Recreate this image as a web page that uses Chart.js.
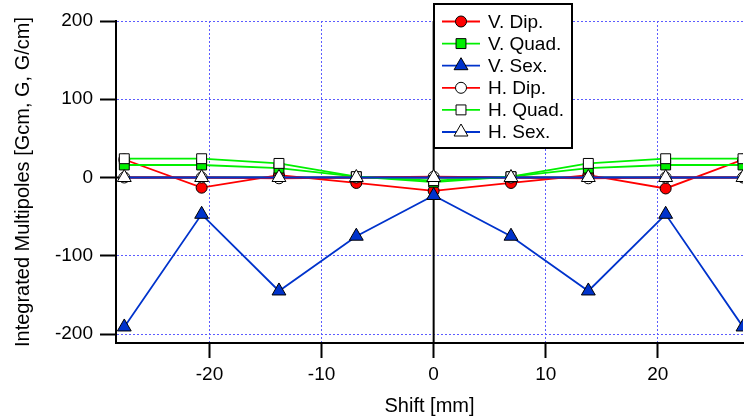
<!DOCTYPE html>
<html>
<head>
<meta charset="utf-8">
<title>Integrated Multipoles vs Shift</title>
<script src="https://cdn.jsdelivr.net/npm/chart.js@4/dist/chart.umd.min.js"></script>
<style>
  html, body { margin: 0; padding: 0; background: #fff; }
  #chart { display: block; }
</style>
</head>
<body>
<canvas id="chart" width="747" height="420"></canvas>
<script>
// shift positions [mm]
const shifts = [-27.6, -20.7, -13.8, -6.9, 0, 6.9, 13.8, 20.7, 27.6];

// integrated multipoles
const vDip  = [23, -13, 3, -7, -17, -7, 3, -14, 23];
const vQuad = [16, 16, 12, 1, -6, 1, 12, 16, 16];
const vSex  = [-191, -47, -145, -75, -23, -75, -145, -47, -191];
const hDip  = [0, 0, -1, 0, 1, 0, -1, 0, 0];
const hQuad = [24, 24, 18, 1, -4, 1, 18, 24, 24];
const hSex  = [0, 0, 0, 0, 0, 0, 0, 0, 0];

const xTicks = [-20, -10, 0, 10, 20];
const yTicks = [-200, -100, 0, 100, 200];

const RED = '#ff0000';
const GREEN = '#00f000';
const BLUE = '#0033cc';
const FONT = 'Liberation Sans, Arial, sans-serif';

const toPoints = ys => ys.map((y, i) => ({ x: shifts[i], y: y }));

function series(label, ys, color, style, radius, filled, order) {
    return {
        label: label,
        data: toPoints(ys),
        borderColor: color,
        borderWidth: 1.8,
        pointStyle: style,
        pointRadius: radius,
        pointHoverRadius: radius,
        pointBorderColor: '#000',
        pointBorderWidth: 1,
        pointBackgroundColor: filled ? color : '#fff',
        tension: 0,
        fill: false,
        order: order
    };
}

const datasets = [
    series('V. Dip.', vDip, RED, 'circle', 5.5, true, 6),
    series('V. Quad.', vQuad, GREEN, 'rect', 7, true, 5),
    series('V. Sex.', vSex, BLUE, 'triangle', 8, true, 4),
    series('H. Dip.', hDip, RED, 'circle', 5.5, false, 3),
    series('H. Quad.', hQuad, GREEN, 'rect', 7, false, 2),
    series('H. Sex.', hSex, BLUE, 'triangle', 8, false, 1)
];

// small marker painter used by the legend
function drawMarker(ctx, style, x, y, r, fill) {
    ctx.beginPath();
    if (style === 'circle') {
        ctx.arc(x, y, r, 0, Math.PI * 2);
    } else if (style === 'rect') {
        const s = r * Math.SQRT1_2;
        ctx.rect(x - s, y - s, 2 * s, 2 * s);
    } else {
        ctx.moveTo(x, y - r);
        ctx.lineTo(x + r * 0.866, y + r / 2);
        ctx.lineTo(x - r * 0.866, y + r / 2);
        ctx.closePath();
    }
    ctx.fillStyle = fill;
    ctx.fill();
    ctx.lineWidth = 1;
    ctx.strokeStyle = '#000';
    ctx.stroke();
}

// black zero lines, like the ones in the original plot
const zeroLines = {
    id: 'zeroLines',
    beforeDatasetsDraw(chart) {
        const { ctx, chartArea, scales } = chart;
        const x0 = scales.x.getPixelForValue(0);
        const y0 = scales.y.getPixelForValue(0);
        ctx.save();
        ctx.strokeStyle = '#000';
        ctx.lineWidth = 2;
        ctx.beginPath();
        ctx.moveTo(x0, chartArea.top);
        ctx.lineTo(x0, chartArea.bottom);
        ctx.moveTo(chartArea.left, y0);
        ctx.lineTo(chartArea.right, y0);
        ctx.stroke();
        ctx.restore();
    }
};

// boxed legend in the top of the plot
const boxLegend = {
    id: 'boxLegend',
    afterDraw(chart) {
        const ctx = chart.ctx;
        const left = 434, top = 4, w = 138, h = 144;
        ctx.save();
        ctx.fillStyle = '#fff';
        ctx.fillRect(left, top, w, h);
        ctx.lineWidth = 2;
        ctx.strokeStyle = '#000';
        ctx.strokeRect(left, top, w, h);
        ctx.font = '19px ' + FONT;
        ctx.textBaseline = 'middle';
        chart.data.datasets.forEach((ds, i) => {
            const y = top + 17.5 + i * 22.1;
            ctx.beginPath();
            ctx.strokeStyle = ds.borderColor;
            ctx.lineWidth = 1.8;
            ctx.moveTo(left + 8, y);
            ctx.lineTo(left + 46, y);
            ctx.stroke();
            drawMarker(ctx, ds.pointStyle, left + 27, y, ds.pointRadius, ds.pointBackgroundColor);
            ctx.fillStyle = '#000';
            ctx.fillText(ds.label, left + 54, y + 1);
        });
        ctx.restore();
    }
};

const gridColor = c => (c.tick && c.tick.value === 0) ? 'rgba(0,0,0,0)' : '#5c5cff';

new Chart(document.getElementById('chart'), {
    type: 'line',
    data: { datasets: datasets },
    options: {
        responsive: false,
        animation: false,
        events: [],
        layout: { autoPadding: false, padding: { top: 21, right: 4, left: 0, bottom: 0 } },
        plugins: {
            legend: { display: false },
            tooltip: { enabled: false }
        },
        scales: {
            x: {
                type: 'linear',
                min: -28.34,
                max: 27.6,
                afterBuildTicks: s => { s.ticks = xTicks.map(v => ({ value: v })); },
                afterFit: s => { s.height = 77; },
                grid: {
                    color: gridColor,
                    lineWidth: 1,
                    tickLength: 15,
                    tickColor: '#000',
                    tickWidth: 2
                },
                border: { color: '#000', width: 2, dash: [2, 2] },
                ticks: {
                    color: '#000',
                    font: { family: FONT, size: 19 },
                    padding: 5,
                    maxRotation: 0
                },
                title: {
                    display: true,
                    text: 'Shift [mm]',
                    color: '#000',
                    font: { family: FONT, size: 20 },
                    padding: { top: 0, bottom: 2 }
                }
            },
            y: {
                min: -211.5,
                max: 200,
                afterBuildTicks: s => { s.ticks = yTicks.map(v => ({ value: v })); },
                afterFit: s => { s.width = 116; },
                grid: {
                    color: gridColor,
                    lineWidth: 1,
                    tickLength: 16,
                    tickColor: '#000',
                    tickWidth: 2
                },
                border: { color: '#000', width: 2, dash: [2, 2] },
                ticks: {
                    color: '#000',
                    font: { family: FONT, size: 19 },
                    padding: 7
                },
                title: {
                    display: true,
                    text: 'Integrated Multipoles [Gcm, G, G/cm]',
                    color: '#000',
                    font: { family: FONT, size: 20 },
                    padding: { top: 11, bottom: 0 }
                }
            }
        }
    },
    plugins: [zeroLines, boxLegend]
});
</script>
</body>
</html>
